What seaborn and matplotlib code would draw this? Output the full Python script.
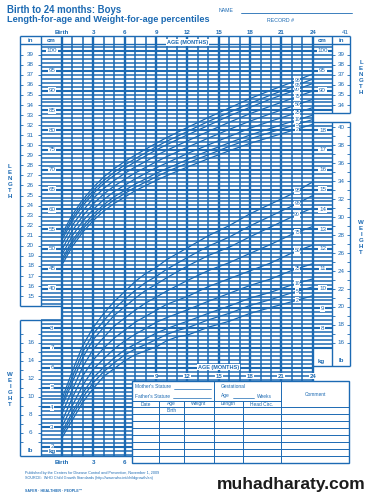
import matplotlib.pyplot as plt
import matplotlib.patches as mpatches
import numpy as np
import pandas as pd
import seaborn as sns

# values (boys, birth to 24 months)
ages = [0, 1, 2, 3, 4, 5, 6, 7, 8, 9, 10, 11, 12, 14, 16, 18, 20, 22, 24]
percentiles = ['2', '5', '10', '25', '50', '75', '90', '95', '98']

len_p2 = [46.0, 50.7, 54.3, 57.2, 59.6, 61.5, 63.1, 64.7, 66.0, 67.3, 68.5, 69.6, 70.7, 72.8, 74.8, 76.7, 78.3, 79.9, 81.5]
len_p5 = [46.8, 51.5, 55.1, 58.0, 60.5, 62.4, 64.0, 65.6, 66.9, 68.2, 69.5, 70.6, 71.7, 73.8, 75.9, 77.8, 79.5, 81.1, 82.7]
len_p10 = [47.5, 52.2, 55.8, 58.8, 61.2, 63.2, 64.8, 66.4, 67.7, 69.1, 70.3, 71.4, 72.6, 74.8, 76.8, 78.8, 80.5, 82.2, 83.8]
len_p25 = [48.6, 53.4, 57.1, 60.0, 62.5, 64.5, 66.1, 67.7, 69.1, 70.5, 71.7, 72.9, 74.1, 76.3, 78.4, 80.5, 82.3, 84.0, 85.7]
len_p50 = [49.9, 54.7, 58.4, 61.4, 63.9, 65.9, 67.6, 69.2, 70.6, 72.0, 73.3, 74.5, 75.7, 78.0, 80.2, 82.3, 84.2, 86.0, 87.8]
len_p75 = [51.2, 56.0, 59.7, 62.8, 65.3, 67.3, 69.1, 70.7, 72.1, 73.6, 74.9, 76.1, 77.3, 79.7, 82.0, 84.2, 86.1, 88.0, 89.9]
len_p90 = [52.3, 57.2, 61.0, 64.0, 66.6, 68.6, 70.4, 72.0, 73.5, 75.0, 76.3, 77.6, 78.8, 81.2, 83.6, 85.8, 87.9, 89.8, 91.8]
len_p95 = [53.0, 57.9, 61.7, 64.8, 67.3, 69.4, 71.2, 72.8, 74.3, 75.8, 77.2, 78.4, 79.7, 82.2, 84.5, 86.8, 88.9, 90.9, 92.9]
len_p98 = [53.8, 58.7, 62.5, 65.6, 68.2, 70.3, 72.1, 73.7, 75.2, 76.7, 78.1, 79.4, 80.7, 83.2, 85.6, 88.0, 90.1, 92.1, 94.2]

wt_p2 = [2.48, 3.37, 4.27, 4.96, 5.57, 5.96, 6.36, 6.66, 6.86, 7.05, 7.36, 7.56, 7.65, 8.05, 8.35, 8.75, 9.05, 9.34, 9.64]
wt_p5 = [2.64, 3.58, 4.51, 5.25, 5.81, 6.25, 6.65, 6.95, 7.18, 7.42, 7.68, 7.88, 8.02, 8.42, 8.75, 9.15, 9.45, 9.79, 10.09]
wt_p10 = [2.79, 3.76, 4.73, 5.50, 6.03, 6.50, 6.90, 7.20, 7.47, 7.75, 7.97, 8.17, 8.35, 8.75, 9.12, 9.52, 9.82, 10.19, 10.49]
wt_p25 = [3.03, 4.10, 5.13, 5.93, 6.46, 6.96, 7.36, 7.69, 7.99, 8.29, 8.53, 8.73, 8.93, 9.36, 9.76, 10.16, 10.49, 10.92, 11.26]
wt_p50 = [3.30, 4.50, 5.60, 6.40, 7.00, 7.50, 7.90, 8.30, 8.60, 8.90, 9.20, 9.40, 9.60, 10.10, 10.50, 10.90, 11.30, 11.80, 12.20]
wt_p75 = [3.70, 4.90, 6.07, 6.94, 7.54, 8.11, 8.51, 8.91, 9.27, 9.57, 9.87, 10.14, 10.41, 10.91, 11.31, 11.78, 12.24, 12.74, 13.14]
wt_p90 = [4.04, 5.30, 6.53, 7.43, 8.05, 8.65, 9.08, 9.51, 9.91, 10.21, 10.54, 10.84, 11.14, 11.67, 12.09, 12.62, 13.12, 13.62, 14.08]
wt_p95 = [4.22, 5.55, 6.82, 7.72, 8.38, 8.98, 9.45, 9.91, 10.31, 10.61, 10.97, 11.27, 11.57, 12.14, 12.60, 13.17, 13.67, 14.17, 14.70]
wt_p98 = [4.43, 5.84, 7.14, 8.04, 8.75, 9.35, 9.85, 10.36, 10.76, 11.06, 11.46, 11.76, 12.06, 12.67, 13.18, 13.78, 14.28, 14.78, 15.39]

month_ticks = [0, 3, 6, 9, 12, 15, 18, 21, 24]
month_labels = ['Birth', '3', '6', '9', '12', '15', '18', '21', '24']

length = dict(zip(percentiles, [len_p2, len_p5, len_p10, len_p25, len_p50, len_p75, len_p90, len_p95, len_p98]))
weight = dict(zip(percentiles, [wt_p2, wt_p5, wt_p10, wt_p25, wt_p50, wt_p75, wt_p90, wt_p95, wt_p98]))

len_df = pd.concat([pd.DataFrame({'age': ages, 'value': v, 'pct': p}) for p, v in length.items()])
wt_df = pd.concat([pd.DataFrame({'age': ages, 'value': v, 'pct': p}) for p, v in weight.items()])

sns.set_theme(style='white')
plt.rcParams['font.family'] = ['Liberation Sans', 'DejaVu Sans']

BLUE = '#1c6ab3'
W, H = 369, 496


def mon(px):
    return (px - 62) / 10.45


def px_of(m):
    return 62 + m * 10.45


def cm_at(py):
    return 100 - (py - 51) / 3.96


fig = plt.figure(figsize=(W / 100, H / 100), dpi=100)


def px_axes(x0, y0, x1, y1, **kw):
    return fig.add_axes([x0 / W, 1 - y1 / H, (x1 - x0) / W, (y1 - y0) / H], **kw)


ax = px_axes(20, 36, 350, 458)
ax2 = ax.twinx()

sns.lineplot(data=len_df, x='age', y='value', units='pct', estimator=None,
             color=BLUE, lw=0.9, ax=ax, legend=False, zorder=3)
sns.lineplot(data=wt_df, x='age', y='value', units='pct', estimator=None,
             color=BLUE, lw=0.9, ax=ax2, legend=False, zorder=3)

ax.set_xlim(mon(20), mon(350))
ax.set_ylim(cm_at(458), cm_at(36))
lo, hi = ax.get_ylim()
ax2.set_ylim(lo / 5 + 2, hi / 5 + 2)   # 1 kg = 5 cm on this chart
ax.axis('off')
ax2.axis('off')

# grid
cms = np.arange(-2, 102)
for rows, lw in [(cms[cms % 5 != 0], 1.1), (cms[cms % 5 == 0], 1.5)]:
    ax.hlines(rows, mon(62), mon(313), color=BLUE, lw=lw, zorder=1)
    ax.hlines(rows[(rows >= 36) | (rows <= 32)], mon(41), mon(62), color=BLUE, lw=lw, zorder=1)
    ax.hlines(rows[(rows >= 85) | ((rows >= 25) & (rows <= 81))], mon(313), mon(332), color=BLUE, lw=lw, zorder=1)
months = np.arange(0, 25)
ax.vlines(months[months % 3 != 0], cm_at(456), cm_at(36), color=BLUE, lw=1.1, zorder=1)
ax.vlines(months[months % 3 == 0], cm_at(456), cm_at(36), color=BLUE, lw=1.7, zorder=1)

# percentile labels
for p, v in length.items():
    ax.text(22.5, np.interp(22.5, ages, v), p, fontsize=3.6, color=BLUE, ha='center', va='center',
            zorder=4, bbox=dict(fc='white', ec='none', pad=0.3))
for p, v in weight.items():
    ax2.text(22.5, np.interp(22.5, ages, v), p, fontsize=3.6, color=BLUE, ha='center', va='center',
             zorder=4, bbox=dict(fc='white', ec='none', pad=0.3))

lab = dict(fontsize=4.5, color=BLUE, ha='center', va='center')
wbox = dict(fc='white', ec='none', pad=0.5)

# left length scale
inches_left = np.arange(15, 40)
ax.hlines(inches_left * 2.54, mon(20), mon(23), color=BLUE, lw=0.6)
ax.hlines(inches_left * 2.54, mon(38), mon(41), color=BLUE, lw=0.6)
for i in inches_left:
    ax.text(mon(30.5), i * 2.54, str(i), **lab)
for c in range(40, 101, 5):
    ax.text(mon(52), c, str(c), bbox=wbox, zorder=4, **lab)

# right length scale
inches_right = np.arange(34, 40)
ax.hlines(inches_right * 2.54, mon(332), mon(335), color=BLUE, lw=0.6)
ax.hlines(inches_right * 2.54, mon(347), mon(350), color=BLUE, lw=0.6)
for i in inches_right:
    ax.text(mon(341), i * 2.54, str(i), **lab)
for c in [90, 95, 100]:
    ax.text(mon(322.5), c, str(c), bbox=wbox, zorder=4, **lab)

# left weight scale
lbs_left = np.arange(5, 18)
ax2.hlines(lbs_left * 0.4536, mon(20), mon(23), color=BLUE, lw=0.6)
ax2.hlines(lbs_left * 0.4536, mon(38), mon(41), color=BLUE, lw=0.6)
for lb in range(6, 17, 2):
    ax2.text(mon(30.5), lb * 0.4536, str(lb), **lab)
for k in range(2, 9):
    ax2.text(mon(52), k, str(k), bbox=wbox, zorder=4, **lab)

# right weight scale
lbs_right = np.arange(16, 41)
ax2.hlines(lbs_right * 0.4536, mon(332), mon(335), color=BLUE, lw=0.6)
ax2.hlines(lbs_right * 0.4536, mon(347), mon(350), color=BLUE, lw=0.6)
for lb in range(16, 41, 2):
    ax2.text(mon(341), lb * 0.4536, str(lb), **lab)
for k in range(8, 19):
    ax2.text(mon(322.5), k, str(k), bbox=wbox, zorder=4, **lab)

# page layer: frames, headings, table, footer
page = fig.add_axes([0, 0, 1, 1], zorder=5)
page.set_xlim(0, W)
page.set_ylim(H, 0)
page.axis('off')

edge = dict(color=BLUE, lw=1.0, solid_capstyle='butt')
page.plot([20, 350], [36, 36], **edge)
page.plot([20, 350], [44, 44], **edge)
page.plot([20, 313], [456, 456], **edge)
for x in [20, 41]:
    page.plot([x, x], [36, 306], **edge)
    page.plot([x, x], [320, 456], **edge)
page.plot([20, 62], [306, 306], **edge)
page.plot([20, 62], [320, 320], **edge)
for x in [332, 350]:
    page.plot([x, x], [36, 113], **edge)
    page.plot([x, x], [122, 366], **edge)
page.plot([313, 350], [113, 113], **edge)
page.plot([313, 350], [122, 122], **edge)
page.plot([313, 350], [366, 366], **edge)

page.text(7, 10, 'Birth to 24 months: Boys', fontsize=6.9, fontweight='bold', color=BLUE, va='center')
page.text(7, 20, 'Length-for-age and Weight-for-age percentiles', fontsize=6.6, fontweight='bold',
          color=BLUE, va='center')
page.text(219, 11, 'NAME', fontsize=3.8, color=BLUE, va='center')
page.plot([241, 352], [13, 13], color=BLUE, lw=0.6)
page.text(267, 21, 'RECORD #', fontsize=3.8, color=BLUE, va='center')

bold = dict(fontsize=4.4, fontweight='bold', color=BLUE, ha='center', va='center')
for m, t in zip(month_ticks, month_labels):
    page.text(px_of(m), 32, t, **bold)
page.text(345, 33, '41', **lab)
page.text(30.5, 40, 'in', **bold)
page.text(51.5, 40, 'cm', **bold)
page.text(322.5, 40, 'cm', **bold)
page.text(341, 40, 'in', **bold)
page.text(px_of(12), 42.5, 'AGE (MONTHS)', bbox=wbox, **dict(bold, fontsize=4.0))
page.text(px_of(15), 367, 'AGE (MONTHS)', bbox=wbox, **dict(bold, fontsize=4.0))
for m, t in zip(month_ticks[3:], month_labels[3:]):
    page.text(px_of(m), 376, t, bbox=wbox, **bold)
for m, t in zip(month_ticks[:3], month_labels[:3]):
    page.text(px_of(m), 463, t, **bold)
page.text(30.5, 451, 'lb', **bold)
page.text(52, 451, 'kg', bbox=wbox, **bold)
page.text(321, 361, 'kg', bbox=wbox, **bold)
page.text(341, 361, 'lb', **bold)

vert = dict(fontsize=4.4, fontweight='bold', color=BLUE, ha='center', va='center', linespacing=1.25)
page.text(10, 182, '\n'.join('LENGTH'), **vert)
page.text(361, 78, '\n'.join('LENGTH'), **vert)
page.text(10, 390, '\n'.join('WEIGHT'), **vert)
page.text(361, 237, '\n'.join('WEIGHT'), **vert)

# record table
page.add_patch(mpatches.Rectangle((132, 381), 217, 82, fc='white', ec=BLUE, lw=1.0, zorder=2))
tl = dict(color=BLUE, lw=0.7, zorder=3)
page.plot([214, 214], [381, 463], **tl)
page.plot([281, 281], [381, 463], **tl)
for x in [159, 184, 243]:
    page.plot([x, x], [401, 463], **tl)
page.plot([132, 281], [401, 401], **tl)
for y in [407, 414, 421, 428, 435, 442, 449, 456]:
    page.plot([132, 349], [y, y], **tl)
small = dict(fontsize=3.5, color=BLUE, va='center', zorder=4)
page.text(135, 387, "Mother's Stature", **small)
page.plot([174, 211], [389, 389], color=BLUE, lw=0.5, zorder=4)
page.text(135, 396, "Father's Stature", **small)
page.plot([173, 211], [398, 398], color=BLUE, lw=0.5, zorder=4)
page.text(221, 387, 'Gestational', **small)
page.text(221, 396, 'Age', **small)
page.plot([233, 254], [398, 398], color=BLUE, lw=0.5, zorder=4)
page.text(257, 396, 'Weeks', **small)
page.text(315, 395, 'Comment', ha='center', **small)
for x, t in [(145.5, 'Date'), (171.5, 'Age'), (199, 'Weight'), (228.5, 'Length'), (262, 'Head Circ.')]:
    page.text(x, 404, t, ha='center', **small)
page.text(171.5, 411, 'Birth', ha='center', **small)

# footer
page.text(25, 473, 'Published by the Centers for Disease Control and Prevention, November 1, 2009',
          fontsize=2.7, color=BLUE, va='center')
page.text(25, 478, 'SOURCE:  WHO Child Growth Standards (http://www.who.int/childgrowth/en)',
          fontsize=2.7, color=BLUE, va='center')
page.text(25, 491, 'SAFER \u00b7 HEALTHIER \u00b7 PEOPLE\u2122', fontsize=2.6, fontweight='bold',
          color=BLUE, va='center')
page.text(291, 484, 'muhadharaty.com', fontsize=12.5, fontweight='bold', color='#1c1c1c',
          ha='center', va='center')

fig.savefig('out.png', dpi=100)
